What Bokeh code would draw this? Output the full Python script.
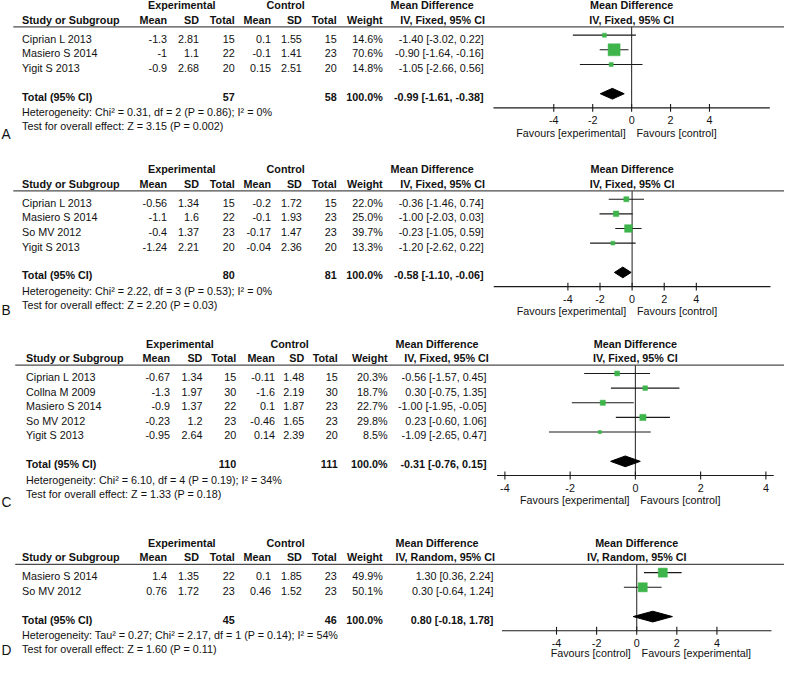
from bokeh.plotting import figure
from bokeh.models import Range1d, ColumnDataSource
from bokeh.core.properties import value
from bokeh.embed import file_html
from bokeh.resources import INLINE

# ---------------- data ----------------
studies_a = ["Ciprian L 2013", "Masiero S 2014", "Yigit S 2013"]
exp_mean_a = [-1.3, -1, -0.9]
exp_sd_a = [2.81, 1.1, 2.68]
exp_n_a = [15, 22, 20]
ctl_mean_a = [0.1, -0.1, 0.15]
ctl_sd_a = [1.55, 1.41, 2.51]
ctl_n_a = [15, 23, 20]
weight_a = [14.6, 70.6, 14.8]
md_a = [-1.40, -0.90, -1.05]
lo_a = [-3.02, -1.64, -2.66]
hi_a = [0.22, -0.16, 0.56]
total_a = [-0.99, -1.61, -0.38]
total_n_a = [57, 58]
het_a = "Heterogeneity: Chi² = 0.31, df = 2 (P = 0.86); I² = 0%"
test_a = "Test for overall effect: Z = 3.15 (P = 0.002)"

studies_b = ["Ciprian L 2013", "Masiero S 2014", "So MV 2012", "Yigit S 2013"]
exp_mean_b = [-0.56, -1.1, -0.4, -1.24]
exp_sd_b = [1.34, 1.6, 1.37, 2.21]
exp_n_b = [15, 22, 23, 20]
ctl_mean_b = [-0.2, -0.1, -0.17, -0.04]
ctl_sd_b = [1.72, 1.93, 1.47, 2.36]
ctl_n_b = [15, 23, 23, 20]
weight_b = [22.0, 25.0, 39.7, 13.3]
md_b = [-0.36, -1.00, -0.23, -1.20]
lo_b = [-1.46, -2.03, -1.05, -2.62]
hi_b = [0.74, 0.03, 0.59, 0.22]
total_b = [-0.58, -1.10, -0.06]
total_n_b = [80, 81]
het_b = "Heterogeneity: Chi² = 2.22, df = 3 (P = 0.53); I² = 0%"
test_b = "Test for overall effect: Z = 2.20 (P = 0.03)"

studies_c = ["Ciprian L 2013", "Collna M 2009", "Masiero S 2014", "So MV 2012", "Yigit S 2013"]
exp_mean_c = [-0.67, -1.3, -0.9, -0.23, -0.95]
exp_sd_c = [1.34, 1.97, 1.37, 1.2, 2.64]
exp_n_c = [15, 30, 22, 23, 20]
ctl_mean_c = [-0.11, -1.6, 0.1, -0.46, 0.14]
ctl_sd_c = [1.48, 2.19, 1.87, 1.65, 2.39]
ctl_n_c = [15, 30, 23, 23, 20]
weight_c = [20.3, 18.7, 22.7, 29.8, 8.5]
md_c = [-0.56, 0.30, -1.00, 0.23, -1.09]
lo_c = [-1.57, -0.75, -1.95, -0.60, -2.65]
hi_c = [0.45, 1.35, -0.05, 1.06, 0.47]
total_c = [-0.31, -0.76, 0.15]
total_n_c = [110, 111]
het_c = "Heterogeneity: Chi² = 6.10, df = 4 (P = 0.19); I² = 34%"
test_c = "Test for overall effect: Z = 1.33 (P = 0.18)"

studies_d = ["Masiero S 2014", "So MV 2012"]
exp_mean_d = [1.4, 0.76]
exp_sd_d = [1.35, 1.72]
exp_n_d = [22, 23]
ctl_mean_d = [0.1, 0.46]
ctl_sd_d = [1.85, 1.52]
ctl_n_d = [23, 23]
weight_d = [49.9, 50.1]
md_d = [1.30, 0.30]
lo_d = [0.36, -0.64]
hi_d = [2.24, 1.24]
total_d = [0.80, -0.18, 1.78]
total_n_d = [45, 46]
het_d = "Heterogeneity: Tau² = 0.27; Chi² = 2.17, df = 1 (P = 0.14); I² = 54%"
test_d = "Test for overall effect: Z = 1.60 (P = 0.11)"

ticks = [-4, -2, 0, 2, 4]
method_fixed = "IV, Fixed, 95% CI"
method_random = "IV, Random, 95% CI"
fav_exp_ctl = ["Favours [experimental]", "Favours [control]"]
fav_ctl_exp = ["Favours [control]", "Favours [experimental]"]

panels = [
    dict(key="A", studies=studies_a, em=exp_mean_a, es=exp_sd_a, en=exp_n_a, cm=ctl_mean_a,
         cs=ctl_sd_a, cn=ctl_n_a, w=weight_a, md=md_a, lo=lo_a, hi=hi_a, tot=total_a,
         totn=total_n_a, het=het_a, test=test_a, method=method_fixed, fav=fav_exp_ctl),
    dict(key="B", studies=studies_b, em=exp_mean_b, es=exp_sd_b, en=exp_n_b, cm=ctl_mean_b,
         cs=ctl_sd_b, cn=ctl_n_b, w=weight_b, md=md_b, lo=lo_b, hi=hi_b, tot=total_b,
         totn=total_n_b, het=het_b, test=test_b, method=method_fixed, fav=fav_exp_ctl),
    dict(key="C", studies=studies_c, em=exp_mean_c, es=exp_sd_c, en=exp_n_c, cm=ctl_mean_c,
         cs=ctl_sd_c, cn=ctl_n_c, w=weight_c, md=md_c, lo=lo_c, hi=hi_c, tot=total_c,
         totn=total_n_c, het=het_c, test=test_c, method=method_fixed, fav=fav_exp_ctl),
    dict(key="D", studies=studies_d, em=exp_mean_d, es=exp_sd_d, en=exp_n_d, cm=ctl_mean_d,
         cs=ctl_sd_d, cn=ctl_n_d, w=weight_d, md=md_d, lo=lo_d, hi=hi_d, tot=total_d,
         totn=total_n_d, het=het_d, test=test_d, method=method_random, fav=fav_ctl_exp),
]

# ---------------- layout (reference pixel units) ----------------
COLS_STD = dict(study=22, exp_hdr=185, ctl_hdr=291, me=170, se=202.5, ne=239, mc=276, sc=307.5, nc=343, w=390)
COLS_C = dict(study=26, exp_hdr=183, ctl_hdr=295, me=173, se=206, ne=240.5, mc=280, sc=310, nc=344, w=395)
LAYOUT = {
    "A": dict(base=19.5, line_x0=13, cols=COLS_STD, ci_right=493, md_hdr=(398, 408),
              frame=(503, 785), half=7.1, fav_dy=26, letter_y=137),
    "B": dict(base=187.5, line_x0=13, cols=COLS_STD, ci_right=493, md_hdr=(398, 408),
              frame=(503.3, 785.7), half=8.62, fav_dy=25.5, letter_y=318),
    "C": dict(base=366, line_x0=15, cols=COLS_C, ci_right=496, md_hdr=(403, 412),
              frame=(506.7, 789), half=4.24, fav_dy=25.5, letter_y=514.5),
    "D": dict(base=570, line_x0=15, cols=COLS_STD, ci_right=503, md_hdr=(403, 403),
              frame=(511.7, 786.7), half=6.72, fav_dy=22.5, letter_y=666),
}

FONT = "Liberation Sans"
W, H = 784, 661
REF_W, REF_H = 800, 677
SX = W / REF_W
GREEN = "#3DB54A"
INK = "#111111"

p = figure(width=W, height=H, x_range=Range1d(0, REF_W), y_range=Range1d(REF_H, 0),
           output_backend="svg", toolbar_location=None,
           x_axis_location=None, y_axis_location=None, min_border=0)
p.outline_line_color = None
p.grid.visible = False
p.background_fill_color = "white"
p.border_fill_color = "white"


def txt(xs, ys, texts, align="left", bold=False, size=11, rng="default", x_offset=0):
    src = ColumnDataSource(dict(x=xs, y=ys, text=texts))
    p.text(x="x", y="y", text="text", source=src, text_align=align, text_baseline="middle",
           text_font=value(FONT), text_font_size=value(f"{size * SX:.2f}px"),
           text_font_style="bold" if bold else "normal", text_color=INK,
           x_range_name=rng, x_offset=x_offset)


def g(v):
    return f"{v:g}"


for pan in panels:
    k = pan["key"]
    lay = LAYOUT[k]
    c = lay["cols"]
    L, R = lay["frame"]
    half = lay["half"]
    S = (R - L) / (2 * half)
    Z = (L + R) / 2
    p.extra_x_ranges[k] = Range1d(-Z / S, (REF_W - Z) / S)

    base = lay["base"]
    n = len(pan["studies"])
    y_h1 = base - 14.5
    y_line = base + 7.5
    rows = [base + 19.5 + 15 * i for i in range(n)]
    y_tot = rows[-1] + 29.5
    y_het = y_tot + 16
    y_test = y_het + 14
    y_axis = y_tot + 11.5
    y_tick = y_axis + 12.5
    y_fav = y_axis + lay["fav_dy"]

    # header
    txt([c["exp_hdr"], c["ctl_hdr"]], [y_h1, y_h1], ["Experimental", "Control"], align="center", bold=True)
    txt([lay["md_hdr"][0]], [y_h1], ["Mean Difference"], bold=True)
    txt([lay["md_hdr"][1]], [base], [pan["method"]], bold=True)
    txt([c["study"]], [base], ["Study or Subgroup"], bold=True)
    hx = [c["me"], c["se"], c["ne"], c["mc"], c["sc"], c["nc"], c["w"]]
    txt(hx, [base] * 7, ["Mean", "SD", "Total", "Mean", "SD", "Total", "Weight"], align="right", bold=True)
    txt([0, 0], [y_h1, base], ["Mean Difference", pan["method"]], align="center", bold=True, rng=k)
    p.segment(x0=[lay["line_x0"]], x1=[REF_W], y0=[y_line], y1=[y_line], line_color="#4d4d4d", line_width=1.3)

    # study rows
    txt([c["study"]] * n, rows, pan["studies"])
    for col, vals, fmt in [("me", pan["em"], g), ("se", pan["es"], g), ("ne", pan["en"], str),
                           ("mc", pan["cm"], g), ("sc", pan["cs"], g), ("nc", pan["cn"], str),
                           ("w", pan["w"], lambda v: f"{v:.1f}%")]:
        txt([c[col]] * n, rows, [fmt(v) for v in vals], align="right")
    ci_txt = [f"{m:.2f} [{a:.2f}, {b:.2f}]" for m, a, b in zip(pan["md"], pan["lo"], pan["hi"])]
    txt([lay["ci_right"]] * n, rows, ci_txt, align="right")

    # total rows
    tm, tl, th = pan["tot"]
    txt([c["study"]], [y_tot], ["Total (95% CI)"], bold=True)
    txt([c["ne"], c["nc"], c["w"]], [y_tot] * 3,
        [str(pan["totn"][0]), str(pan["totn"][1]), f"{sum(pan['w']):.1f}%"], align="right", bold=True)
    txt([lay["ci_right"]], [y_tot], [f"{tm:.2f} [{tl:.2f}, {th:.2f}]"], align="right", bold=True)
    txt([c["study"], c["study"]], [y_het, y_test], [pan["het"], pan["test"]])
    txt([1], [lay["letter_y"]], [k], size=14)

    # forest plot
    ym = [y - 3.5 for y in rows]
    p.segment(x0=[0], x1=[0], y0=[y_line], y1=[y_axis], x_range_name=k, line_color="#333333", line_width=1.1)
    p.segment(x0=pan["lo"], x1=pan["hi"], y0=ym, y1=ym, x_range_name=k, line_color="#1a1a1a", line_width=1.1)
    p.scatter(x=pan["md"], y=ym, marker="square", size=[(2 + 0.145 * w) * SX for w in pan["w"]],
              fill_color=GREEN, line_color=GREEN, line_width=0.5, x_range_name=k)
    yd = y_tot - 3
    p.patches(xs=[[tl, tm, th, tm]], ys=[[yd, yd - 5.5, yd, yd + 5.5]], x_range_name=k,
              fill_color="black", line_color="black")
    # axis
    p.segment(x0=[-half], x1=[half], y0=[y_axis], y1=[y_axis], x_range_name=k, line_color="#1a1a1a", line_width=1.1)
    p.segment(x0=ticks, x1=ticks, y0=[y_axis - 4] * len(ticks), y1=[y_axis + 4] * len(ticks),
              x_range_name=k, line_color="#1a1a1a", line_width=1.1)
    txt(ticks, [y_tick] * len(ticks), [str(t) for t in ticks], align="center", rng=k)
    txt([0], [y_fav], [pan["fav"][0]], align="right", rng=k, x_offset=-6 * SX)
    txt([0], [y_fav], [pan["fav"][1]], align="left", rng=k, x_offset=5 * SX)

open("out.html", "w").write(file_html(p, INLINE))
